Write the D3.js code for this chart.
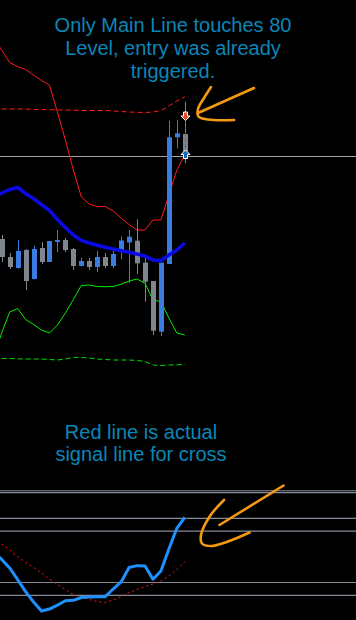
<!DOCTYPE html>
<html>
<head>
<meta charset="utf-8">
<script src="https://cdn.jsdelivr.net/npm/d3@7/dist/d3.min.js"></script>
<style>
  html, body { margin: 0; padding: 0; background: #000; }
  #chart { width: 356px; height: 620px; overflow: hidden; }
  .note { font-family: 'Liberation Sans', Arial, sans-serif; font-size: 20px; fill: #0b86b8; }
</style>
</head>
<body>
<div id="chart"></div>
<script>
// ---- candles (bars 0..23) ----
const candleOpen  = [1.2561, 1.2543, 1.2532, 1.2550, 1.2521, 1.2552, 1.2538, 1.2558, 1.2560, 1.2551, 1.2534, 1.2539,
                     1.2533, 1.2543, 1.2534, 1.2548, 1.25575, 1.25593, 1.25373, 1.2519, 1.24683, 1.2536, 1.26627, 1.2666];
const candleHigh  = [1.2565, 1.2547, 1.2560, 1.2551, 1.25543, 1.2558, 1.2559, 1.2570, 1.2562, 1.2552, 1.2542, 1.2542,
                     1.2549, 1.2547, 1.2551, 1.25635, 1.2570, 1.25807, 1.2542, 1.2519, 1.25373, 1.26793, 1.2680, 1.26983];
const candleLow   = [1.2538, 1.2531, 1.25315, 1.2510, 1.25205, 1.2536, 1.2538, 1.2548, 1.2548, 1.2530, 1.25335, 1.2530,
                     1.2528, 1.2532, 1.2532, 1.2541, 1.2517, 1.2526, 1.24983, 1.2465, 1.2464, 1.2536, 1.26517, 1.26367];
const candleClose = [1.2543, 1.2533, 1.2549, 1.2519, 1.2551, 1.2538, 1.2559, 1.2560, 1.2550, 1.2534, 1.2539, 1.2533,
                     1.2543, 1.2534, 1.2546, 1.25595, 1.25633, 1.25367, 1.25183, 1.24693, 1.25373, 1.26627, 1.26667, 1.26467];

// ---- indicators (bars -1..23, bar -1 sits just left of the view) ----
const indicatorBars = d3.range(-1, 24);
const upperBand = [1.27615, 1.2750, 1.27375, 1.27335, 1.27305, 1.2725, 1.27195, 1.2715, 1.2688, 1.2660, 1.2630, 1.2603,
                   1.2596, 1.25935, 1.25935, 1.2589, 1.2582, 1.25755, 1.2570, 1.2570, 1.2580, 1.2580, 1.2605, 1.2630, 1.2645];
const upperLevel = [1.2691, 1.2691, 1.2691, 1.2691, 1.2691, 1.26905, 1.26905, 1.26903, 1.2690, 1.2690, 1.26898, 1.26895,
                    1.26895, 1.26895, 1.26895, 1.2689, 1.26885, 1.2688, 1.26877, 1.26875, 1.2688, 1.26895, 1.2694, 1.2699, 1.27033];
const movingAvg = [1.26025, 1.2607, 1.26105, 1.26125, 1.26065, 1.26014, 1.25955, 1.25895, 1.25805, 1.25725, 1.2565, 1.25596,
                   1.2557, 1.25548, 1.25528, 1.2551, 1.25492, 1.25478, 1.2546, 1.2544, 1.2540, 1.25394, 1.2545, 1.2550, 1.2557];
const lowerBand = [1.2444, 1.2467, 1.2488, 1.24915, 1.24805, 1.24755, 1.2470, 1.2467, 1.2475, 1.2487, 1.25005, 1.25145,
                   1.2515, 1.25135, 1.25133, 1.25135, 1.25157, 1.2519, 1.2521, 1.25167, 1.2500, 1.24985, 1.2482, 1.2467, 1.2465];
const lowerLevel = [1.24417, 1.24417, 1.24415, 1.24412, 1.2441, 1.2441, 1.2441, 1.24405, 1.2440, 1.2441, 1.24427, 1.24425,
                    1.2442, 1.2441, 1.24405, 1.2440, 1.2440, 1.2440, 1.24395, 1.24385, 1.2435, 1.24345, 1.2435, 1.24352, 1.24357];

const currentPrice = 1.2644;

// trade arrows on the last bar
const tradeBars   = [23, 23];
const tradePrices = [1.26795, 1.2650];
const tradeTypes  = ['sell', 'buy'];

// ---- stochastic (bars -1..23) ----
const stochMain   = [54, 47.9, 41.3, 32.3, 22.9, 14.8, 7.8, 9.3, 12.4, 15.8, 16.1, 18.3, 18.7,
                     18.8, 18.9, 24.9, 30.4, 41.7, 43.1, 42.8, 32.5, 38.9, 56.1, 72.2, 80.8];
const stochSignal = [64.7, 60.0, 55.5, 50.2, 45.6, 41.7, 37.4, 32.7, 28.4, 24.5, 20.6, 18.3, 16.7,
                     15.1, 14.4, 16.3, 19.1, 22.2, 24.5, 26.8, 28.8, 31.1, 35.0, 40.1, 46.2];
const stochLevels = [100, 80, 70, 30, 20];

const topNote    = ['Only Main Line touches 80', 'Level, entry was already', 'triggered.'];
const bottomNote = ['Red line is actual', 'signal line for cross'];

class SignalChart {
    constructor(elID) {
        this.width  = 356;
        this.height = 620;
        this.svg = d3.select('#' + elID).append('svg')
                    .attr('width', this.width)
                    .attr('height', this.height)
                    .style('background', '#000');

        this.x     = d3.scaleLinear().domain([0, 23]).range([1.7, 184.8]);
        this.price = d3.scaleLinear().domain([1.24, 1.28]).range([400, 0]);
        this.osc   = d3.scaleLinear().domain([0, 100]).range([621, 492.6]);
    }

    priceLine(values, dash, color, width) {
        const line = d3.line()
                .x((d, i) => this.x(indicatorBars[i]))
                .y(d => this.price(d));
        this.svg.append('path')
            .attr('d', line(values))
            .attr('fill', 'none')
            .attr('stroke', color)
            .attr('stroke-width', width)
            .attr('stroke-dasharray', dash)
            .attr('stroke-linejoin', 'round');
    }

    drawBands() {
        this.priceLine(upperLevel, '5,3', '#ff1a1a', 1);
        this.priceLine(lowerLevel, '5,3', '#00e600', 1);
        this.priceLine(upperBand, null, '#ff1a1a', 1);
        this.priceLine(lowerBand, null, '#00f000', 1);
    }

    drawPriceLine() {
        this.svg.append('line')
            .attr('x1', 0).attr('x2', this.width)
            .attr('y1', Math.round(this.price(currentPrice)) + 0.5)
            .attr('y2', Math.round(this.price(currentPrice)) + 0.5)
            .attr('stroke', '#a3a3a3')
            .attr('stroke-width', 1);
    }

    drawCandles() {
        const data = candleOpen.map((o, i) => ({
            i: i, o: o, h: candleHigh[i], l: candleLow[i], c: candleClose[i]
        }));
        const color = d => d.c > d.o ? '#3a7ce2' : '#7e8690';
        const g = this.svg.append('g');
        const cx = d => Math.round(this.x(d.i));

        g.selectAll('.wick').data(data).enter().append('line')
            .attr('class', 'wick')
            .attr('x1', d => cx(d) + 0.5).attr('x2', d => cx(d) + 0.5)
            .attr('y1', d => this.price(d.h))
            .attr('y2', d => this.price(d.l))
            .attr('stroke', color)
            .attr('stroke-width', 1);

        g.selectAll('.body').data(data).enter().append('rect')
            .attr('class', 'body')
            .attr('x', d => cx(d) - 2)
            .attr('width', 5)
            .attr('y', d => this.price(Math.max(d.o, d.c)))
            .attr('height', d => Math.max(1.5, this.price(Math.min(d.o, d.c)) - this.price(Math.max(d.o, d.c))))
            .attr('fill', color);
    }

    drawAverage() {
        this.priceLine(movingAvg, null, '#0a0ae8', 3.5);
    }

    drawTrades() {
        const x = Math.round(this.x(tradeBars[0])) + 0.5;
        this.svg.append('line')
            .attr('x1', x).attr('x2', x)
            .attr('y1', this.price(tradePrices[0]))
            .attr('y2', this.price(tradePrices[1]))
            .attr('stroke', '#ff2020')
            .attr('stroke-width', 1)
            .attr('stroke-dasharray', '3,3');

        const down = 'M0,0 L-4.5,-4.5 L-2,-4.5 L-2,-8.5 L2,-8.5 L2,-4.5 L4.5,-4.5 Z';
        const up   = 'M0,0 L-4.5,4.5 L-2,4.5 L-2,8.5 L2,8.5 L2,4.5 L4.5,4.5 Z';
        tradeTypes.forEach((t, i) => {
            this.svg.append('path')
                .attr('d', t === 'sell' ? down : up)
                .attr('transform', `translate(${x},${this.price(tradePrices[i])})`)
                .attr('fill', t === 'sell' ? '#e8472a' : '#1565b5')
                .attr('stroke', '#fff')
                .attr('stroke-width', 1);
        });
    }

    drawOscillator() {
        const lev = this.svg.append('g');
        lev.append('line')
            .attr('x1', 0).attr('x2', this.width)
            .attr('y1', this.osc(100) - 1.8).attr('y2', this.osc(100) - 1.8)
            .attr('stroke', '#8a929c');
        lev.selectAll('.level').data(stochLevels).enter().append('line')
            .attr('class', 'level')
            .attr('x1', 0).attr('x2', this.width)
            .attr('y1', d => this.osc(d)).attr('y2', d => this.osc(d))
            .attr('stroke', '#848c98')
            .attr('stroke-width', 1.2);

        const line = d3.line()
                .x((d, i) => this.x(indicatorBars[i]))
                .y(d => this.osc(d));

        this.svg.append('path')
            .attr('d', line(stochSignal))
            .attr('fill', 'none')
            .attr('stroke', '#ff1a1a')
            .attr('stroke-width', 1)
            .attr('stroke-dasharray', '2,3');

        this.svg.append('path')
            .attr('d', line(stochMain))
            .attr('fill', 'none')
            .attr('stroke', '#1e90ff')
            .attr('stroke-width', 3)
            .attr('stroke-linejoin', 'round');
    }

    drawNotes() {
        this.svg.append('text').attr('class', 'note')
            .attr('text-anchor', 'middle')
            .selectAll('tspan').data(topNote).enter().append('tspan')
            .attr('x', 173)
            .attr('y', (d, i) => 32 + i * 23)
            .text(d => d);

        this.svg.append('text').attr('class', 'note')
            .attr('text-anchor', 'middle')
            .selectAll('tspan').data(bottomNote).enter().append('tspan')
            .attr('x', 141)
            .attr('y', (d, i) => 439 + i * 22)
            .text(d => d);
    }

    drawScribbles() {
        // hand-drawn arrows over the picture
        const strokes = [
            [[254, 88], [198, 113]],
            [[211, 87], [204, 98], [198, 109], [198.5, 116.5], [208, 119.5], [234, 120]],
            [[283.5, 485.5], [219.5, 525]],
            [[224, 500], [210, 516], [201, 535], [202, 543.5], [211, 546], [228, 541.5], [249.5, 532.5]]
        ];
        const pen = d3.line().curve(d3.curveCatmullRom);
        this.svg.selectAll('.scribble').data(strokes).enter().append('path')
            .attr('class', 'scribble')
            .attr('d', pen)
            .attr('fill', 'none')
            .attr('stroke', '#f39a12')
            .attr('stroke-width', 2.6)
            .attr('stroke-linecap', 'round')
            .attr('stroke-linejoin', 'round');
    }

    run() {
        this.drawPriceLine();
        this.drawBands();
        this.drawCandles();
        this.drawAverage();
        this.drawTrades();
        this.drawOscillator();
        this.drawNotes();
        this.drawScribbles();
    }
}

new SignalChart('chart').run();
</script>
</body>
</html>
